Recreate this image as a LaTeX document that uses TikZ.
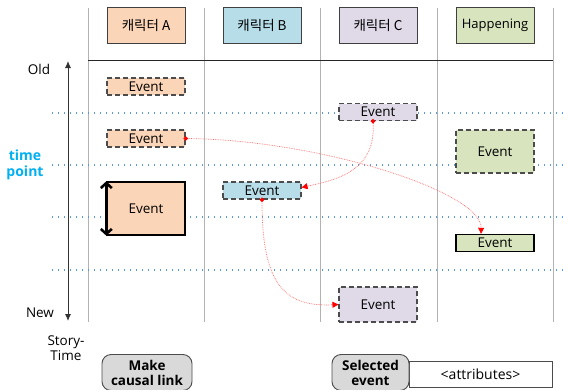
\documentclass[tikz,border=0pt]{standalone}
\usepackage{fontspec}
\setmainfont{Open Sans}
\newfontfamily\krfont{Noto Sans CJK KR}
\usetikzlibrary{arrows.meta}
\definecolor{peach}{HTML}{FBD5B8}
\definecolor{skyblue}{HTML}{B7DDE8}
\definecolor{lavender}{HTML}{E0DAE8}
\definecolor{sage}{HTML}{D7E4BD}
\definecolor{tickblue}{HTML}{5B9BD5}
\definecolor{cyanlabel}{HTML}{00B0F0}

\begin{document}
\begin{tikzpicture}[x=1pt, y=-1pt,
    header/.style={draw=black!75, line width=0.9pt, minimum width=78pt,
      minimum height=36pt, inner sep=0pt, font=\krfont\fontsize{13.5}{15}\selectfont},
    evt/.style={minimum width=78pt, minimum height=17pt, inner sep=0pt,
      font=\fontsize{13.5}{15}\selectfont},
    tentative/.style={evt, draw=black!70, line width=1.1pt,
      dash pattern=on 5pt off 3pt},
    fixedevt/.style={evt, draw=black, line width=1.4pt},
    lane/.style={draw=black!30, line width=0.8pt},
    tickline/.style={draw=tickblue, line width=1.3pt, dash pattern=on 1.3pt off 4.7pt},
    axis/.style={draw=black!80, line width=0.9pt,
      {Latex[length=7pt,width=6pt]}-{Latex[length=7pt,width=6pt]}},
    holdarrow/.style={draw=black, line width=2.6pt,
      {Straight Barb[length=5pt,width=11pt]}-{Straight Barb[length=5pt,width=11pt]}},
    link/.style={draw=red!60, densely dotted, line width=0.7pt, shorten <=-2pt,
      {Circle[length=4.5pt,red]}-{Triangle[length=6pt,width=6pt,red]}},
    button/.style={draw=black!70, line width=0.9pt, fill=black!15, rounded corners=9pt,
      align=center, inner sep=0pt, font=\bfseries\fontsize{13.5}{15}\selectfont},
    label/.style={align=center, font=\fontsize{13.5}{15.5}\selectfont}
  ]
  \clip (0,0) rectangle (563,389);
  \useasboundingbox (0,0) rectangle (563,389);

  % swim lanes and time points
  \foreach \x in {88,204,320,437,553}
    \draw[lane] (\x,8) -- (\x,322);
  \draw[draw=black!85, line width=1pt] (88,60) -- (553,60);
  \foreach \y in {113,165,217,270}
    \draw[tickline] (52,\y) -- (563,\y);

  % lane headers
  \node[header, fill=peach] (headA) at (146,25) {캐릭터 A};
  \node[header, fill=skyblue] (headB) at (262,25) {캐릭터 B};
  \node[header, fill=lavender] (headC) at (378,25) {캐릭터 C};
  \node[header, fill=sage, font=\fontsize{13}{14}\selectfont] (headH) at (495,25) {Happening};

  % story-time axis
  \draw[axis] (68,61) -- (68,321);
  \node[label] (old) at (39,69) {Old};
  \node[label] (new) at (40,313) {New};
  \node[label] (storyTime) at (66,348) {Story-\\Time};
  \node[label, text=cyanlabel, font=\bfseries\fontsize{14}{16}\selectfont] (timePoint)
    at (25,165) {time\\point};

  % events
  \node[tentative, fill=peach] (evtA1) at (146,86.5) {Event};
  \node[tentative, fill=peach] (evtA2) at (146,138.5) {Event};
  \node[fixedevt, fill=peach, minimum height=53pt] (evtA3) at (146,208.5) {Event};
  \node[tentative, fill=skyblue] (evtB1) at (262,190.5) {Event};
  \node[tentative, fill=lavender] (evtC1) at (378,112) {Event};
  \node[tentative, fill=lavender, minimum height=35pt] (evtC2) at (378,304.5) {Event};
  \node[tentative, fill=sage, minimum height=43pt] (evtH1) at (495,151.5) {Event};
  \node[fixedevt, fill=sage] (evtH2) at (495,243) {Event};

  \draw[holdarrow] (evtA3.north west) -- (evtA3.south west);

  % causal links
  \draw[link] (evtA2.east) .. controls (320,140) and (482,192) .. ([xshift=-14pt]evtH2.north);
  \draw[link] ([xshift=-5pt]evtC1.south) .. controls (376,172) and (335,180) .. ([yshift=3pt]evtB1.east);
  \draw[link] (evtB1.south) .. controls (262,285) and (285,307) .. (evtC2.west);

  % controls
  \node[button, minimum width=90pt, minimum height=36pt] (makeLink) at (147,372.5) {Make\\causal link};
  \node[draw=black!70, line width=0.9pt, fill=white, minimum width=143pt, minimum height=26pt,
    inner sep=0pt, font=\fontsize{14}{15}\selectfont] (attrs) at (480.5,374) {<attributes>};
  \node[button, minimum width=77pt, minimum height=36pt] (selEvent) at (370.5,372.5) {Selected\\event};
\end{tikzpicture}
\end{document}
